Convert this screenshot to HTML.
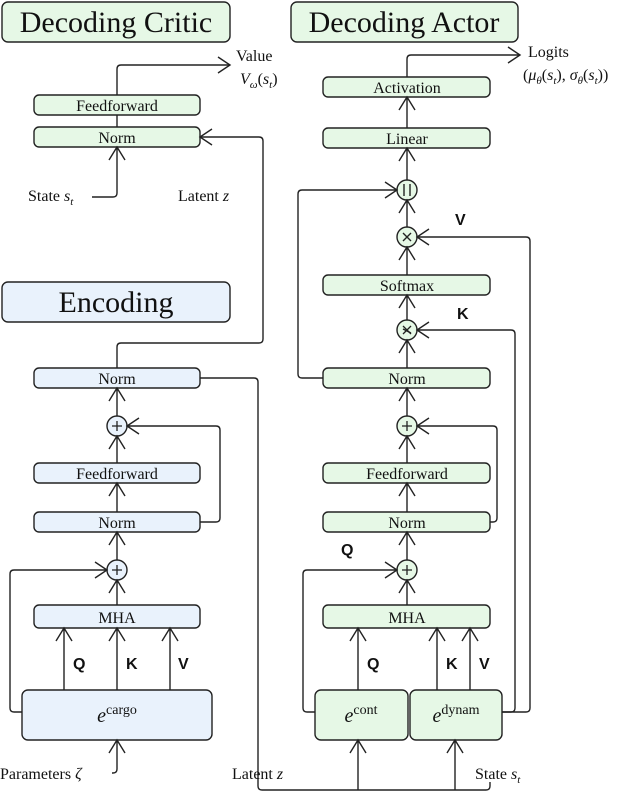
<!DOCTYPE html>
<html><head><meta charset="utf-8"><style>
html,body{margin:0;padding:0;background:#fff;}
svg{display:block;}
text{font-family:"Liberation Serif",serif;fill:#111;}
.b{font-family:"Liberation Sans",sans-serif;font-weight:bold;font-size:16px;}
</style></head><body>
<svg width="640" height="794" viewBox="0 0 640 794" xmlns="http://www.w3.org/2000/svg">
<g stroke="#222" stroke-width="1.4" fill="none">
<!-- title boxes -->
<rect x="2" y="2" width="228" height="40" rx="6" fill="#e6f8e6"/>
<rect x="291" y="2" width="227" height="40" rx="6" fill="#e6f8e6"/>
<rect x="2" y="282" width="228" height="40" rx="6" fill="#e9f2fc"/>
<!-- critic -->
<rect x="34" y="95" width="166" height="20" rx="5" fill="#e6f8e6"/>
<rect x="34" y="127" width="166" height="20" rx="5" fill="#e6f8e6"/>
<path d="M117 127V115M117 95V69Q117 65 121 65H230"/>
<path d="M218 57L230 65L218 73"/>
<path d="M92 197H113Q117 197 117 193V147M109 160L117 147L125 160"/>
<path d="M200 137H259Q263 137 263 141V339Q263 343 259 343H121Q117 343 117 347V368"/>
<path d="M212 129L200 137L212 145"/>
<!-- encoding -->
<rect x="34" y="368" width="166" height="20" rx="5" fill="#e9f2fc"/>
<rect x="34" y="463" width="166" height="20" rx="5" fill="#e9f2fc"/>
<rect x="34" y="512" width="166" height="20" rx="5" fill="#e9f2fc"/>
<rect x="34" y="605" width="166" height="23" rx="5" fill="#e9f2fc"/>
<rect x="22" y="690" width="190" height="50" rx="6" fill="#e9f2fc"/>
<circle cx="117" cy="426" r="10" fill="#e9f2fc"/>
<circle cx="117" cy="570" r="10" fill="#e9f2fc"/>
<path d="M117 416V388M109 401L117 388L125 401"/>
<path d="M117 463V436M109 449L117 436L125 449"/>
<path d="M117 512V483M109 496L117 483L125 496"/>
<path d="M117 560V532M109 545L117 532L125 545"/>
<path d="M117 605V580M109 593L117 580L125 593"/>
<path d="M200 522H216Q220 522 220 518V430Q220 426 216 426H127M139 418L127 426L139 434"/>
<path d="M22 712H14Q10 712 10 708V574Q10 570 14 570H107M95 562L107 570L95 578"/>
<path d="M64 690V628M56 641L64 628L72 641"/>
<path d="M117 690V628M109 641L117 628L125 641"/>
<path d="M170 690V628M162 641L170 628L178 641"/>
<path d="M112 773H113Q117 773 117 769V740M109 753L117 740L125 753"/>
<path d="M200 378H254Q258 378 258 382V786Q258 790 262 790H486Q490 790 490 786V782"/>
<!-- actor -->
<rect x="323" y="77" width="167" height="20" rx="5" fill="#e6f8e6"/>
<rect x="323" y="128" width="167" height="20" rx="5" fill="#e6f8e6"/>
<rect x="323" y="275" width="167" height="20" rx="5" fill="#e6f8e6"/>
<rect x="323" y="368" width="167" height="20" rx="5" fill="#e6f8e6"/>
<rect x="323" y="463" width="167" height="20" rx="5" fill="#e6f8e6"/>
<rect x="323" y="512" width="167" height="20" rx="5" fill="#e6f8e6"/>
<rect x="323" y="605" width="167" height="23" rx="5" fill="#e6f8e6"/>
<rect x="315" y="690" width="93" height="50" rx="6" fill="#e6f8e6"/>
<rect x="410" y="690" width="92" height="50" rx="6" fill="#e6f8e6"/>
<circle cx="407" cy="190" r="10" fill="#e6f8e6"/>
<circle cx="407" cy="237" r="10" fill="#e6f8e6"/>
<circle cx="407" cy="330" r="10" fill="#e6f8e6"/>
<circle cx="407" cy="426" r="10" fill="#e6f8e6"/>
<circle cx="407" cy="570" r="10" fill="#e6f8e6"/>
<path d="M404 184V196M410 184V196"/>
<path d="M403 233L411 241M411 233L403 241M403 329L411 333"/>
<path d="M407 77V59Q407 55 411 55H520M508 47L520 55L508 63"/>
<path d="M407 128V97M399 110L407 97L415 110"/>
<path d="M407 180V148M399 161L407 148L415 161"/>
<path d="M407 227V200M399 213L407 200L415 213"/>
<path d="M407 275V247M399 260L407 247L415 260"/>
<path d="M407 320V295M399 308L407 295L415 308"/>
<path d="M407 368V340M399 353L407 340L415 353"/>
<path d="M407 416V388M399 401L407 388L415 401"/>
<path d="M407 463V436M399 449L407 436L415 449"/>
<path d="M407 512V483M399 496L407 483L415 496"/>
<path d="M407 560V532M399 545L407 532L415 545"/>
<path d="M407 605V580M399 593L407 580L415 593"/>
<path d="M323 378H302Q298 378 298 374V194Q298 190 302 190H397M385 182L397 190L385 198"/>
<path d="M490 522H493Q497 522 497 518V430Q497 426 493 426H417M429 418L417 426L429 434"/>
<path d="M315 712H307Q303 712 303 708V574Q303 570 307 570H397M385 562L397 570L385 578"/>
<path d="M502 712H511Q515 712 515 708V334Q515 330 511 330H417M429 322L417 330L429 338"/>
<path d="M502 712H526Q530 712 530 708V241Q530 237 526 237H417M429 229L417 237L429 245"/>
<path d="M358 690V628M350 641L358 628L366 641"/>
<path d="M437 690V628M429 641L437 628L445 641"/>
<path d="M470 690V628M462 641L470 628L478 641"/>
<path d="M358 790V740M350 753L358 740L366 753"/>
<path d="M455 790V740M447 753L455 740L463 753"/>
</g>
<g stroke="#222" stroke-width="1.3">
<path d="M112 426H122M117 421V431M112 570H122M117 565V575M402 426H412M407 421V431M402 570H412M407 565V575"/>
<path d="M403 326L411 334M411 326L403 334"/>
</g>
<g font-size="30" text-anchor="middle">
<text x="116" y="32">Decoding Critic</text>
<text x="404" y="32">Decoding Actor</text>
<text x="116" y="312">Encoding</text>
</g>
<g font-size="16" text-anchor="middle">
<text x="117" y="111">Feedforward</text>
<text x="117" y="143">Norm</text>
<text x="117" y="384">Norm</text>
<text x="117" y="479">Feedforward</text>
<text x="117" y="528">Norm</text>
<text x="117" y="623">MHA</text>
<text x="407" y="93">Activation</text>
<text x="407" y="144">Linear</text>
<text x="407" y="291">Softmax</text>
<text x="407" y="384">Norm</text>
<text x="407" y="479">Feedforward</text>
<text x="407" y="528">Norm</text>
<text x="407" y="623">MHA</text>
</g>
<text x="117" y="722" font-size="20" text-anchor="middle"><tspan font-style="italic">e</tspan><tspan font-size="14" dy="-8">cargo</tspan></text>
<text x="361" y="722" font-size="20" text-anchor="middle"><tspan font-style="italic">e</tspan><tspan font-size="14" dy="-8">cont</tspan></text>
<text x="456" y="722" font-size="20" text-anchor="middle"><tspan font-style="italic">e</tspan><tspan font-size="14" dy="-8">dynam</tspan></text>
<g font-size="16">
<text x="236" y="61">Value</text>
<text x="240" y="84"><tspan font-style="italic">V</tspan><tspan font-style="italic" font-size="11" dy="4">ω</tspan><tspan dy="-4">(</tspan><tspan font-style="italic">s</tspan><tspan font-style="italic" font-size="11" dy="4">t</tspan><tspan dy="-4">)</tspan></text>
<text x="28" y="201">State <tspan font-style="italic">s</tspan><tspan font-style="italic" font-size="11" dy="4">t</tspan></text>
<text x="178" y="201">Latent <tspan font-style="italic">z</tspan></text>
<text x="528" y="57">Logits</text>
<text x="523" y="80">(<tspan font-style="italic">μ</tspan><tspan font-style="italic" font-size="11" dy="4">θ</tspan><tspan dy="-4">(</tspan><tspan font-style="italic">s</tspan><tspan font-style="italic" font-size="11" dy="4">t</tspan><tspan dy="-4">), </tspan><tspan font-style="italic">σ</tspan><tspan font-style="italic" font-size="11" dy="4">θ</tspan><tspan dy="-4">(</tspan><tspan font-style="italic">s</tspan><tspan font-style="italic" font-size="11" dy="4">t</tspan><tspan dy="-4">))</tspan></text>
<text x="0" y="779">Parameters <tspan font-style="italic">ζ</tspan></text>
<text x="232" y="779">Latent <tspan font-style="italic">z</tspan></text>
<text x="475" y="779">State <tspan font-style="italic">s</tspan><tspan font-style="italic" font-size="11" dy="4">t</tspan></text>
</g>
<text class="b" x="73" y="669">Q</text>
<text class="b" x="126" y="669">K</text>
<text class="b" x="178" y="669">V</text>
<text class="b" x="367" y="669">Q</text>
<text class="b" x="446" y="669">K</text>
<text class="b" x="479" y="669">V</text>
<text class="b" x="341" y="555">Q</text>
<text class="b" x="457" y="319">K</text>
<text class="b" x="455" y="225">V</text>
</svg>
</body></html>
